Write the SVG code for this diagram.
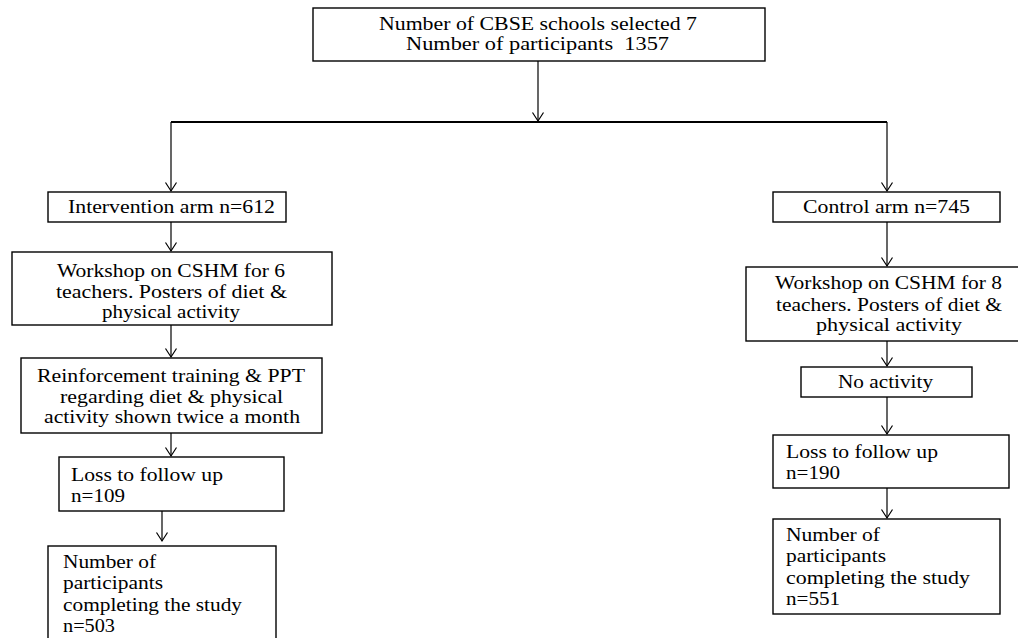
<svg xmlns="http://www.w3.org/2000/svg" width="1018" height="638" viewBox="0 0 1018 638">
<style>
.box{fill:#fff;stroke:#000;stroke-width:1.4}
.ln{fill:none;stroke:#000;stroke-width:1.2}
.bar{fill:none;stroke:#000;stroke-width:2.2}
text{font-family:"Liberation Serif","Times New Roman",serif;font-size:19px;fill:#000}
</style>
<defs>
<marker id="arr" markerUnits="userSpaceOnUse" viewBox="-10 -7 12 14" markerWidth="12" markerHeight="14" refX="0" refY="0" orient="auto" overflow="visible">
<path d="M-8.5,-5.5 L0,0 L-8.5,5.5" fill="none" stroke="#000" stroke-width="1.2"/>
</marker>
</defs>
<rect width="1018" height="638" fill="#fff"/>
<g id="connectors">
<line class="ln" x1="538" y1="61" x2="538" y2="121" marker-end="url(#arr)"/>
<line class="bar" x1="171" y1="122" x2="887" y2="122"/>
<line class="ln" x1="171" y1="122" x2="171" y2="191" marker-end="url(#arr)"/>
<line class="ln" x1="887" y1="122" x2="887" y2="191" marker-end="url(#arr)"/>
<line class="ln" x1="171" y1="222" x2="171" y2="251" marker-end="url(#arr)"/>
<line class="ln" x1="171" y1="325" x2="171" y2="357" marker-end="url(#arr)"/>
<line class="ln" x1="171" y1="433" x2="171" y2="456" marker-end="url(#arr)"/>
<line class="ln" x1="162" y1="511" x2="162" y2="541" marker-end="url(#arr)"/>
<line class="ln" x1="887" y1="222" x2="887" y2="266" marker-end="url(#arr)"/>
<line class="ln" x1="887" y1="341" x2="887" y2="366" marker-end="url(#arr)"/>
<line class="ln" x1="887" y1="397" x2="887" y2="434" marker-end="url(#arr)"/>
<line class="ln" x1="887" y1="488" x2="887" y2="518" marker-end="url(#arr)"/>
</g>
<g id="top">
<rect class="box" x="313" y="8" width="452" height="53"/>
<text x="379" y="30" textLength="318" lengthAdjust="spacingAndGlyphs">Number of CBSE schools selected 7</text>
<text x="406" y="50" textLength="263" lengthAdjust="spacingAndGlyphs">Number of participants&#160; 1357</text>
</g>
<g id="intervention">
<rect class="box" x="48" y="192" width="238" height="30"/>
<text x="68" y="213" textLength="207" lengthAdjust="spacingAndGlyphs">Intervention arm n=612</text>
</g>
<g id="control">
<rect class="box" x="773" y="192" width="227" height="30"/>
<text x="803" y="213" textLength="167" lengthAdjust="spacingAndGlyphs">Control arm n=745</text>
</g>
<g id="workshop-left">
<rect class="box" x="12" y="252" width="320" height="73"/>
<text x="57" y="277" textLength="228" lengthAdjust="spacingAndGlyphs">Workshop on CSHM for 6</text>
<text x="56" y="298" textLength="231" lengthAdjust="spacingAndGlyphs">teachers. Posters of diet &amp;</text>
<text x="102" y="318" textLength="138" lengthAdjust="spacingAndGlyphs">physical activity</text>
</g>
<g id="reinforcement">
<rect class="box" x="21" y="358" width="301" height="75"/>
<text x="37" y="382" textLength="268" lengthAdjust="spacingAndGlyphs">Reinforcement training &amp; PPT</text>
<text x="60" y="403" textLength="223" lengthAdjust="spacingAndGlyphs">regarding diet &amp; physical</text>
<text x="44" y="423" textLength="256" lengthAdjust="spacingAndGlyphs">activity shown twice a month</text>
</g>
<g id="loss-left">
<rect class="box" x="59" y="457" width="225" height="54"/>
<text x="71" y="481" textLength="152" lengthAdjust="spacingAndGlyphs">Loss to follow up</text>
<text x="71" y="502" textLength="54" lengthAdjust="spacingAndGlyphs">n=109</text>
</g>
<g id="complete-left">
<rect class="box" x="48" y="546" width="228" height="100"/>
<text x="63" y="568" textLength="93" lengthAdjust="spacingAndGlyphs">Number of</text>
<text x="63" y="589" textLength="100" lengthAdjust="spacingAndGlyphs">participants</text>
<text x="63" y="611" textLength="179" lengthAdjust="spacingAndGlyphs">completing the study</text>
<text x="63" y="632" textLength="52" lengthAdjust="spacingAndGlyphs">n=503</text>
</g>
<g id="workshop-right">
<rect class="box" x="746" y="267" width="280" height="74"/>
<text x="775" y="289" textLength="227" lengthAdjust="spacingAndGlyphs">Workshop on CSHM for 8</text>
<text x="776" y="311" textLength="226" lengthAdjust="spacingAndGlyphs">teachers. Posters of diet &amp;</text>
<text x="816" y="331" textLength="146" lengthAdjust="spacingAndGlyphs">physical activity</text>
</g>
<g id="no-activity">
<rect class="box" x="801" y="367" width="171" height="30"/>
<text x="838" y="388" textLength="95" lengthAdjust="spacingAndGlyphs">No activity</text>
</g>
<g id="loss-right">
<rect class="box" x="773" y="435" width="236" height="53"/>
<text x="786" y="458" textLength="152" lengthAdjust="spacingAndGlyphs">Loss to follow up</text>
<text x="786" y="479" textLength="54" lengthAdjust="spacingAndGlyphs">n=190</text>
</g>
<g id="complete-right">
<rect class="box" x="773" y="519" width="227" height="95"/>
<text x="786" y="541" textLength="94" lengthAdjust="spacingAndGlyphs">Number of</text>
<text x="786" y="562" textLength="100" lengthAdjust="spacingAndGlyphs">participants</text>
<text x="786" y="584" textLength="184" lengthAdjust="spacingAndGlyphs">completing the study</text>
<text x="786" y="605" textLength="54" lengthAdjust="spacingAndGlyphs">n=551</text>
</g>
</svg>
